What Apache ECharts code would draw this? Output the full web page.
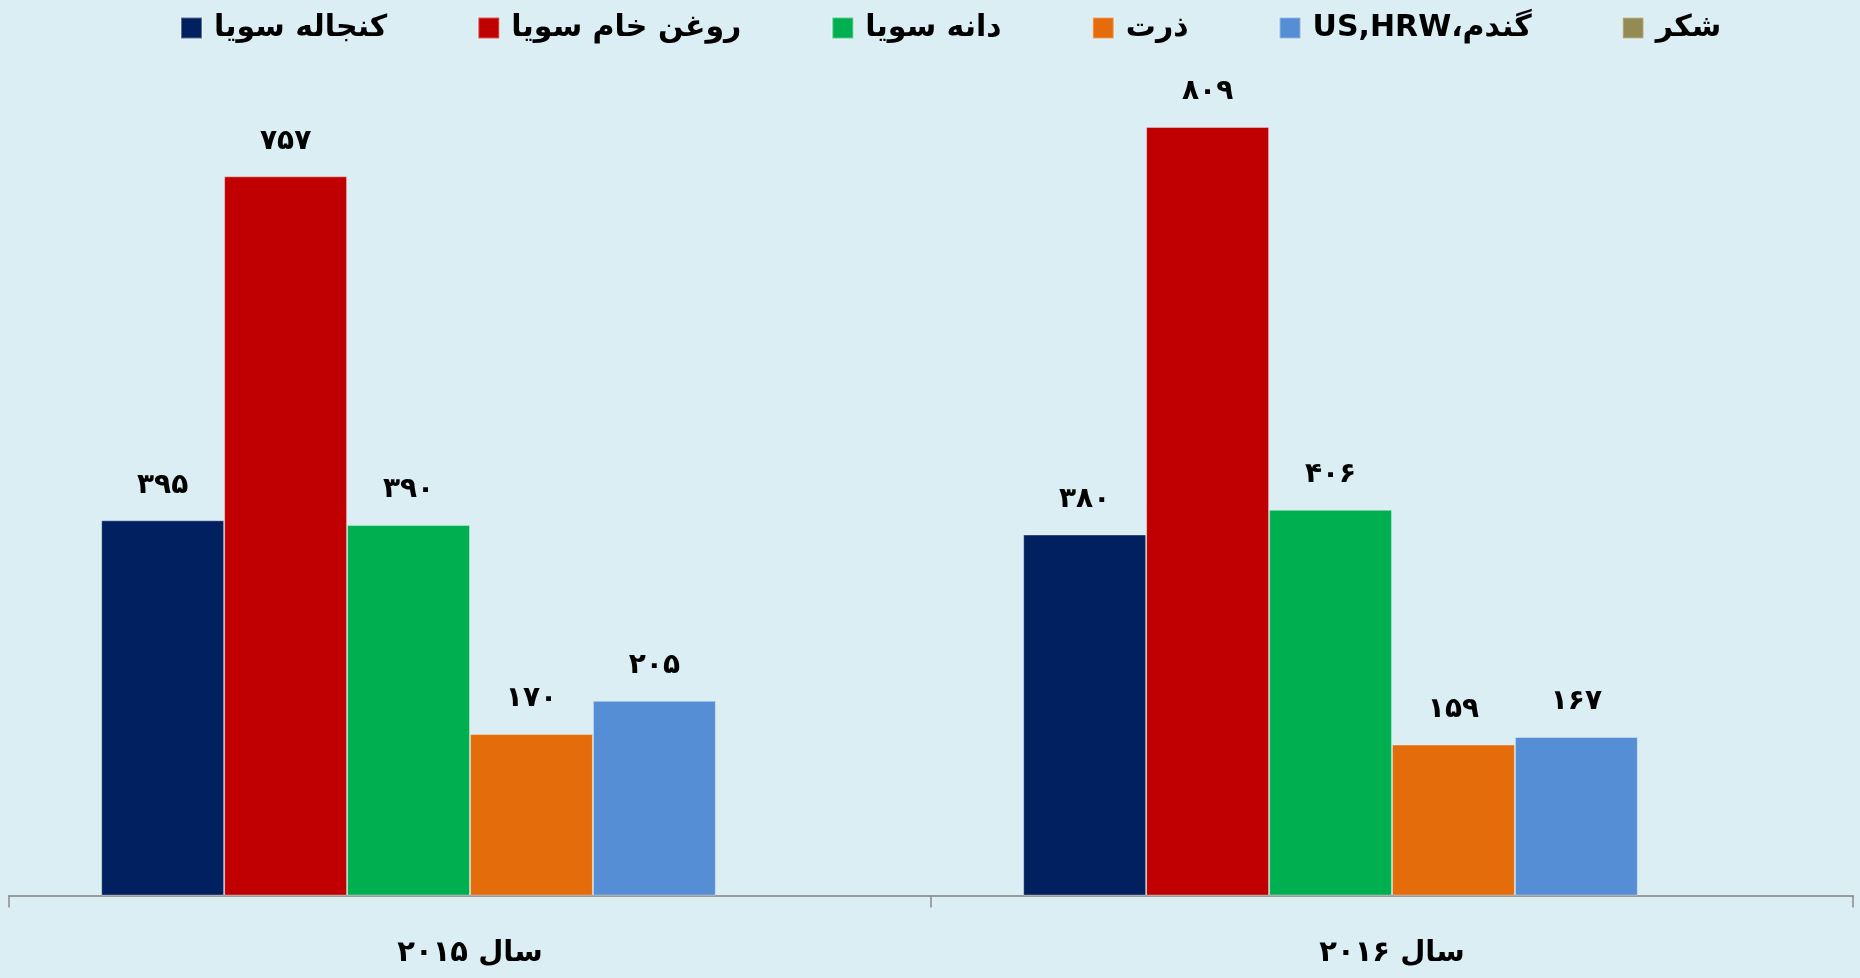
<!DOCTYPE html>
<html>
<head>
<meta charset="utf-8">
<script src="https://cdn.jsdelivr.net/npm/echarts@6/dist/echarts.min.js"></script>
<style>
html,body{margin:0;padding:0;background:#DBEEF3;}
#chart{width:1860px;height:978px;}
</style>
</head>
<body>
<div id="chart"></div>
<script>
var categories = ['سال ۲۰۱۵', 'سال ۲۰۱۶'];
var seriesNames = ['کنجاله سویا', 'روغن خام سویا', 'دانه سویا', 'ذرت', 'US,HRW،گندم', 'شکر'];
var soyMeal = [395, 380];
var soyOil = [757, 809];
var soybean = [390, 406];
var corn = [170, 159];
var wheat = [205, 167];
var sugar = [null, null];
var colors = ['#002060', '#C00000', '#00B050', '#E46C0A', '#558ED5', '#948A54'];

var seriesData = [soyMeal, soyOil, soybean, corn, wheat, sugar];
var fa = '۰۱۲۳۴۵۶۷۸۹';
function toFa(v){ return String(v).replace(/\d/g, function(d){ return fa[d]; }); }
var fontFam = "'Liberation Sans Narrow', 'DejaVu Sans', sans-serif";

var chart = echarts.init(document.getElementById('chart'), null, {renderer:'canvas'});
chart.setOption({
  backgroundColor: '#DBEEF3',
  animation: false,
  color: colors,
  legend: {
    top: 8,
    left: 175,
    icon: 'rect',
    itemWidth: 21,
    itemHeight: 21,
    itemGap: 90,
    textStyle: {fontSize: 30, fontWeight: 'bold', color: '#000', fontFamily: fontFam, padding: [0, 0, 0, 7]},
    data: seriesNames
  },
  grid: {left: 9, right: 7, top: 40.5, bottom: 82.4, containLabel: false},
  xAxis: {
    type: 'category',
    data: categories,
    axisLine: {lineStyle: {color: '#9a9a9a', width: 2}},
    axisTick: {show: true, length: 12, lineStyle: {color: '#8a8a8a', width: 1.5}},
    axisLabel: {fontSize: 29, fontWeight: 'bold', color: '#000', margin: 43, fontFamily: fontFam}
  },
  yAxis: {
    type: 'value', min: 0, max: 900, show: false,
    splitLine: {show: false}
  },
  series: seriesNames.map(function(n, i){
    return {
      name: n,
      type: 'bar',
      data: seriesData[i],
      barGap: '0%',
      barCategoryGap: '20%',
      itemStyle: {color: colors[i], borderColor: 'rgba(255,255,255,0.35)', borderWidth: 1},
      label: {
        show: true,
        position: 'top',
        distance: 21,
        fontSize: 28,
        fontWeight: 'bold',
        color: '#000',
        fontFamily: "'DejaVu Sans', sans-serif",
        formatter: function(p){ return p.value == null ? '' : toFa(p.value); }
      }
    };
  })
});
</script>
</body>
</html>
